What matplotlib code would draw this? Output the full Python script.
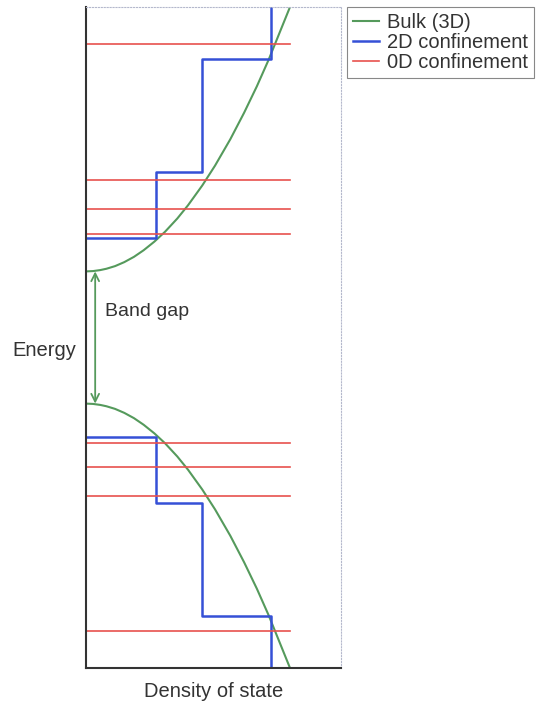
import matplotlib.pyplot as plt

plt.rcParams['font.family'] = ['Liberation Sans', 'DejaVu Sans']

# Bulk (3D) density of states (energy, DOS)
cb_energy = [1.0, 1.005, 1.02, 1.04, 1.08, 1.14, 1.22, 1.32, 1.45, 1.6, 1.8, 2.0, 2.3, 2.6, 3.0, 3.4, 3.8, 4.2, 4.6, 5.0]
cb_dos = [0.0, 0.14, 0.28, 0.40, 0.57, 0.75, 0.94, 1.13, 1.34, 1.55, 1.79, 2.0, 2.28, 2.53, 2.83, 3.10, 3.35, 3.58, 3.79, 4.0]
vb_energy = [-1.0, -1.005, -1.02, -1.04, -1.08, -1.14, -1.22, -1.32, -1.45, -1.6, -1.8, -2.0, -2.3, -2.6, -3.0, -3.4, -3.8, -4.2, -4.6, -5.0]
vb_dos = [0.0, 0.14, 0.28, 0.40, 0.57, 0.75, 0.94, 1.13, 1.34, 1.55, 1.79, 2.0, 2.28, 2.53, 2.83, 3.10, 3.35, 3.58, 3.79, 4.0]

# 2D confinement staircase: level energies and DOS of each step
cb_steps = [1.5, 2.5, 4.22]
vb_steps = [-1.5, -2.5, -4.22]
step_dos = [1.37, 2.27, 3.63]

# 0D confinement discrete levels
levels_0d = [4.44, 2.38, 1.95, 1.57, -1.59, -1.96, -2.40, -4.44]

green = '#559a5c'
blue = '#3550d6'
red = '#e8524e'

fig = plt.figure(figsize=(5.38, 7.05), dpi=100)
ax = fig.add_axes([86 / 538, 1 - 668 / 705, 255 / 538, 661 / 705])

# bulk curves
ax.plot(cb_dos, cb_energy, color=green, lw=1.5, label='Bulk (3D)')
ax.plot(vb_dos, vb_energy, color=green, lw=1.5)

# 2D staircase, built from the step values
for steps, top in [(cb_steps, 5.0), (vb_steps, -5.0)]:
    xs = [0]
    ys = [steps[0]]
    for i, d in enumerate(step_dos):
        xs += [d, d]
        nxt = steps[i + 1] if i + 1 < len(steps) else top
        ys += [steps[i], nxt]
    ax.plot(xs, ys, color=blue, lw=1.8, label='2D confinement' if top > 0 else None)

# 0D levels
for i, e in enumerate(levels_0d):
    ax.plot([0, 4.0], [e, e], color=red, lw=1.2, label='0D confinement' if i == 0 else None)

# band gap arrow
ax.annotate('', xy=(0.18, 1.0), xytext=(0.18, -1.0),
            arrowprops=dict(arrowstyle='<->', color=green, lw=1.3, shrinkA=0, shrinkB=0, mutation_scale=14))
ax.text(0.38, 0.4, 'Band gap', fontsize=14, color='#333333', va='center', ha='left')

ax.set_xlim(0, 5)
ax.set_ylim(-5, 5)
ax.set_xticks([])
ax.set_yticks([])
for side in ['left', 'bottom']:
    ax.spines[side].set_color('#333333')
    ax.spines[side].set_linewidth(1.5)
for side in ['top', 'right']:
    ax.spines[side].set_color('#b4b8cc')
    ax.spines[side].set_linewidth(0.8)
    ax.spines[side].set_linestyle(':')

ax.set_xlabel('Density of state', fontsize=14.5, color='#333333', labelpad=10)
fig.text(44 / 538, 1 - 350 / 705, 'Energy', fontsize=14.5, color='#333333', ha='center', va='center')

leg = ax.legend(loc='upper left', bbox_to_anchor=(347 / 538, 1 - 7 / 705), bbox_transform=fig.transFigure,
                fontsize=14.5, handlelength=1.3, handletextpad=0.4, labelspacing=0.05,
                borderpad=0.3, borderaxespad=0, fancybox=False, framealpha=1)
leg.get_frame().set_edgecolor('#888888')
leg.get_frame().set_linewidth(0.8)
for t in leg.get_texts():
    t.set_color('#333333')

fig.savefig('out.png', dpi=100)
